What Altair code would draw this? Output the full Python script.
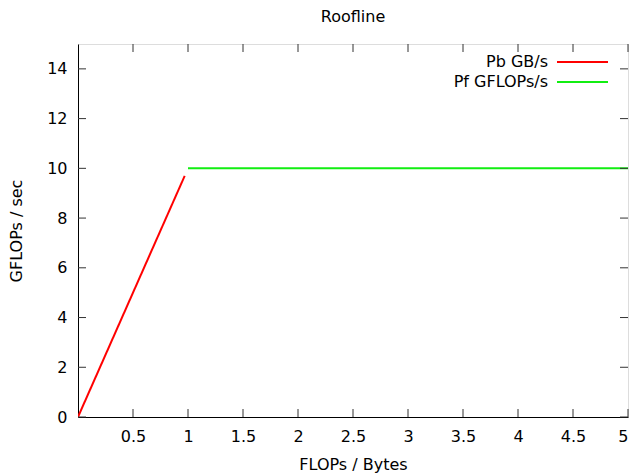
import altair as alt
import pandas as pd

# Data
bw_x = [0.0, 0.97]
bw_y = [0.0, 9.7]
pf_x = [1.0, 5.0]
pf_y = [10.0, 10.0]
series_names = ["Pb GB/s", "Pf GFLOPs/s"]
series_colors = ["#ff0000", "#11ee11"]
x_ticks = [0.5, 1, 1.5, 2, 2.5, 3, 3.5, 4, 4.5, 5]
y_ticks = [0, 2, 4, 6, 8, 10, 12, 14]

W, H = 550, 373
FONT = "DejaVu Sans"
FS = 16
TL = 8  # tick length

df_bw = pd.DataFrame({"x": bw_x, "y": bw_y, "s": series_names[0]})
df_pf = pd.DataFrame({"x": pf_x, "y": pf_y, "s": series_names[1]})
df_xt = pd.DataFrame({"v": x_ticks})
df_yt = pd.DataFrame({"v": y_ticks})

xs = alt.Scale(domain=[0, 5], nice=False, zero=False)
ys = alt.Scale(domain=[0, 15], nice=False, zero=False)

x_axis = alt.Axis(values=x_ticks, format="~g", tickSize=0, labelPadding=11, grid=False,
                  domainColor="#000000", labelFont=FONT, labelFontSize=FS,
                  labelColor="#000000", title="FLOPs / Bytes", titleFont=FONT,
                  titleFontSize=FS, titleFontWeight="normal", titlePadding=12,
                  titleColor="#000000", labelFlush=True)
y_axis = alt.Axis(values=y_ticks, format="~g", tickSize=0, labelPadding=11, grid=False,
                  domainColor="#000000", labelFont=FONT, labelFontSize=FS,
                  labelColor="#000000", title="GFLOPs / sec", titleFont=FONT,
                  titleFontSize=FS, titleFontWeight="normal", titlePadding=22,
                  titleColor="#000000", labelFlush=False)

base_line = lambda d, color: alt.Chart(d).mark_line(color=color, strokeWidth=2, clip=True).encode(
    x=alt.X("x:Q", scale=xs, axis=x_axis),
    y=alt.Y("y:Q", scale=ys, axis=y_axis),
)

bw = base_line(df_bw, series_colors[0])
pf = base_line(df_pf, series_colors[1])

tick_color = "#333333"
xt_bot = alt.Chart(df_xt).mark_rule(color=tick_color, strokeWidth=1).encode(
    x=alt.X("v:Q", scale=xs), y=alt.value(H), y2=alt.value(H - TL))
xt_top = alt.Chart(df_xt).mark_rule(color=tick_color, strokeWidth=1).encode(
    x=alt.X("v:Q", scale=xs), y=alt.value(0), y2=alt.value(TL))
yt_left = alt.Chart(df_yt).mark_rule(color=tick_color, strokeWidth=1).encode(
    y=alt.Y("v:Q", scale=ys), x=alt.value(0), x2=alt.value(TL))
yt_right = alt.Chart(df_yt).mark_rule(color=tick_color, strokeWidth=1).encode(
    y=alt.Y("v:Q", scale=ys), x=alt.value(W), x2=alt.value(W - TL))

legend_layers = []
for i, (name, color) in enumerate(zip(series_names, series_colors)):
    ypix = 18 + 20 * i
    d = pd.DataFrame({"s": [name]})
    legend_layers.append(
        alt.Chart(d).mark_rule(color=color, strokeWidth=2).encode(
            x=alt.value(479), x2=alt.value(530), y=alt.value(ypix)))
    legend_layers.append(
        alt.Chart(d).mark_text(align="right", baseline="middle", font=FONT,
                               fontSize=FS, color="#000000").encode(
            text="s:N", x=alt.value(470), y=alt.value(ypix)))

chart = alt.layer(bw, pf, xt_bot, xt_top, yt_left, yt_right, *legend_layers).properties(
    width=W, height=H,
    title=alt.TitleParams("Roofline", font=FONT, fontSize=FS, fontWeight="normal",
                          color="#000000", anchor="middle", offset=19),
    autosize=alt.AutoSizeParams(type="none"),
    padding={"left": 70, "top": 36, "right": 1, "bottom": 57},
).configure_view(stroke="#555555", strokeWidth=1).configure(background="white")

chart.save("out.html", embed_options={"renderer": "svg", "actions": False})
